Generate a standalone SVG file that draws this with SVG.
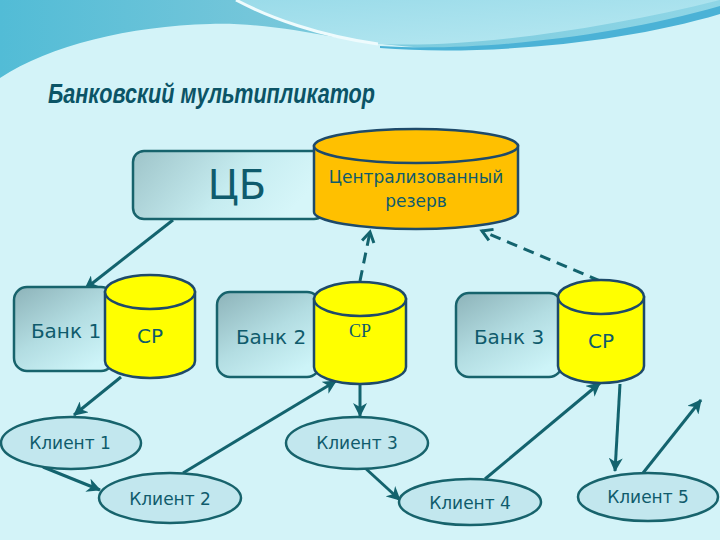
<svg xmlns="http://www.w3.org/2000/svg" width="720" height="540" viewBox="0 0 720 540">
<defs>
  <linearGradient id="wave" x1="0" y1="0" x2="1" y2="0">
    <stop offset="0" stop-color="#52bcd6"/>
    <stop offset="0.35" stop-color="#74c6da"/>
    <stop offset="1" stop-color="#8fd6e6"/>
  </linearGradient>
  <linearGradient id="waveLight" x1="0" y1="0" x2="1" y2="1">
    <stop offset="0" stop-color="#9adbe9"/>
    <stop offset="1" stop-color="#b9e9f2"/>
  </linearGradient>
  <linearGradient id="bank" x1="0" y1="0" x2="0.7" y2="1">
    <stop offset="0" stop-color="#8db3b9"/>
    <stop offset="0.55" stop-color="#b3dde2"/>
    <stop offset="1" stop-color="#cdf4f8"/>
  </linearGradient>
  <linearGradient id="cb" x1="0" y1="0" x2="1" y2="0.3">
    <stop offset="0" stop-color="#9ec4c9"/>
    <stop offset="0.6" stop-color="#c6ecf0"/>
    <stop offset="1" stop-color="#d6f6f9"/>
  </linearGradient>
  <marker id="arr" markerUnits="userSpaceOnUse" markerWidth="16" markerHeight="14" refX="13" refY="7" orient="auto">
    <path d="M0,0 L14,7 L0,14 L4,7 Z" fill="#13636e"/>
  </marker>
  <marker id="arrOpen" markerUnits="userSpaceOnUse" markerWidth="16" markerHeight="16" refX="12" refY="8" orient="auto">
    <path d="M2,2 L12,8 L2,14" fill="none" stroke="#13636e" stroke-width="3"/>
  </marker>
</defs>
<style>
  .bank { fill: url(#bank); stroke: #17636c; stroke-width: 2.5; }
  .cyl { stroke: #1e4a6a; stroke-width: 2.5; }
  .sr { fill: #ffff00; }
  .res { fill: #ffc000; }
  .client { fill: #c2e7ee; stroke: #17636c; stroke-width: 2.5; }
  .lbl { font-family: "DejaVu Sans", sans-serif; fill: #0f5b6c; text-anchor: middle; }
  .conn { stroke: #13636e; stroke-width: 3; fill: none; marker-end: url(#arr); }
  .dash { stroke: #13636e; stroke-width: 3; fill: none; stroke-dasharray: 11 7; marker-end: url(#arrOpen); }
</style>

<rect x="0" y="0" width="720" height="540" fill="#d3f3f8"/>

<!-- top wave -->
<path d="M0,0 H720 V10 C650,35 520,52 430,48 C340,44 290,22 210,24 C130,26 50,45 0,78 Z" fill="url(#wave)"/>
<path d="M236,0 C270,18 320,36 380,44 C470,48 600,30 720,0 Z" fill="url(#waveLight)"/>
<path d="M236,0 C270,18 320,36 378,44" fill="none" stroke="#eefbfd" stroke-width="3"/>
<path d="M380,46 C470,52 610,38 720,6 V14 C620,44 480,56 380,48 Z" fill="#4bb2d6"/>

<text x="48" y="103" font-family="Liberation Sans, sans-serif" font-size="27" font-style="italic" font-weight="bold" fill="#0b5466" textLength="327" lengthAdjust="spacingAndGlyphs">Банковский мультипликатор</text>

<g id="connectors">
  <line class="conn" x1="173" y1="220" x2="85" y2="289"/>
  <line class="conn" x1="121" y1="377" x2="74" y2="415"/>
  <line class="conn" x1="43" y1="467" x2="100" y2="490"/>
  <line class="conn" x1="183" y1="473" x2="336" y2="381"/>
  <line class="conn" x1="360" y1="385" x2="360" y2="416"/>
  <line class="conn" x1="364" y1="467" x2="400" y2="500"/>
  <line class="conn" x1="485" y1="479" x2="600" y2="383"/>
  <line class="conn" x1="620" y1="384" x2="615" y2="471"/>
  <line class="conn" x1="643" y1="473" x2="701" y2="400"/>
  <line class="dash" x1="360" y1="281" x2="370" y2="232"/>
  <line class="dash" x1="600" y1="281" x2="482" y2="231"/>
</g>

<g id="cb-node">
  <rect x="133" y="151" width="192" height="68" rx="11" fill="url(#cb)" stroke="#17636c" stroke-width="2.5"/>
  <text class="lbl" x="237" y="199" font-size="40">ЦБ</text>
</g>

<g id="reserve">
  <path class="cyl res" d="M314,146 V212 A102,17 0 0 0 518,212 V146 Z"/>
  <ellipse class="cyl res" cx="416" cy="146" rx="102" ry="17"/>
  <text class="lbl" x="416" y="183" font-size="17">Централизованный</text>
  <text class="lbl" x="416" y="207" font-size="17">резерв</text>
</g>

<g id="bank1">
  <rect class="bank" x="14" y="287" width="100" height="84" rx="13"/>
  <text class="lbl" x="66" y="338" font-size="20">Банк 1</text>
</g>
<g id="sr1">
  <path class="cyl sr" d="M105,292 V361 A45,17 0 0 0 195,361 V292 Z"/>
  <ellipse class="cyl sr" cx="150" cy="292" rx="45" ry="17"/>
  <text class="lbl" x="150" y="343" font-size="20">СР</text>
</g>

<g id="bank2">
  <rect class="bank" x="217" y="292" width="103" height="85" rx="13"/>
  <text class="lbl" x="271" y="344" font-size="20">Банк 2</text>
</g>
<g id="sr2">
  <path class="cyl sr" d="M314,299 V367 A46,17 0 0 0 406,367 V299 Z"/>
  <ellipse class="cyl sr" cx="360" cy="299" rx="46" ry="17"/>
  <text x="360" y="337" font-family="Liberation Serif, serif" font-size="18" fill="#0f5b6c" text-anchor="middle">СР</text>
</g>

<g id="bank3">
  <rect class="bank" x="456" y="293" width="106" height="84" rx="13"/>
  <text class="lbl" x="509" y="344" font-size="20">Банк 3</text>
</g>
<g id="sr3">
  <path class="cyl sr" d="M558,297 V366 A43,17 0 0 0 644,366 V297 Z"/>
  <ellipse class="cyl sr" cx="601" cy="297" rx="43" ry="17"/>
  <text class="lbl" x="601" y="348" font-size="20">СР</text>
</g>

<g id="client1">
  <ellipse class="client" cx="71" cy="443" rx="70" ry="26"/>
  <text class="lbl" x="70" y="449" font-size="17">Клиент 1</text>
</g>
<g id="client2">
  <ellipse class="client" cx="170" cy="498" rx="71" ry="25"/>
  <text class="lbl" x="170" y="505" font-size="17">Клиент 2</text>
</g>
<g id="client3">
  <ellipse class="client" cx="357" cy="443" rx="71" ry="26"/>
  <text class="lbl" x="357" y="449" font-size="17">Клиент 3</text>
</g>
<g id="client4">
  <ellipse class="client" cx="470" cy="502" rx="71" ry="23"/>
  <text class="lbl" x="470" y="509" font-size="17">Клиент 4</text>
</g>
<g id="client5">
  <ellipse class="client" cx="648" cy="497" rx="70" ry="24"/>
  <text class="lbl" x="648" y="503" font-size="17">Клиент 5</text>
</g>
</svg>
